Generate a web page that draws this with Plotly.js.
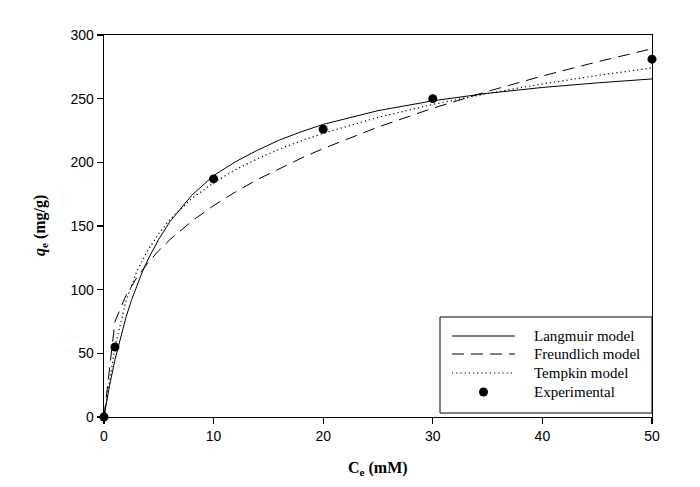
<!DOCTYPE html>
<html>
<head>
<meta charset="utf-8">
<script src="https://cdn.plot.ly/plotly-3.0.1.min.js"></script>
<style>html,body{margin:0;padding:0;background:#fff;}#chart{width:700px;height:487px;}</style>
</head>
<body>
<div id="chart"></div>
<script>
// Model curves
const langmuirCe = [0, 0.5, 1, 1.5, 2, 2.5, 3, 3.5, 4, 5, 6, 8, 10, 12, 14, 16, 18, 20, 25, 30, 35, 40, 45, 50];
const langmuirQe = [0, 24.4, 45.0, 62.7, 78.1, 91.6, 103.4, 114.0, 123.5, 139.7, 153.2, 174.1, 189.6, 200.5, 209.5, 217.5, 224.0, 229.8, 240.6, 248.3, 254.2, 258.8, 262.4, 265.5];
const modelCe = [0, 1, 2, 3, 4, 5, 6, 8, 10, 12, 14, 16, 18, 20, 25, 30, 35, 40, 45, 50];
const freundlichQe = [0, 75.0, 95.3, 109.6, 121.0, 130.7, 139.2, 153.7, 166.0, 176.8, 186.5, 195.2, 203.3, 210.8, 227.7, 242.5, 255.7, 267.8, 278.9, 289.2];
const tempkinQe = [0, 55.0, 91.0, 114.5, 131.0, 144.0, 155.0, 171.5, 184.0, 194.2, 202.8, 210.3, 216.9, 222.8, 235.3, 245.5, 254.1, 261.6, 268.2, 274.1];
// Experimental points
const expCe = [0, 1, 10, 20, 30, 50];
const expQe = [0, 55, 187, 226, 250, 281];
// Axis ticks
const xTicks = [0, 10, 20, 30, 40, 50];
const yTicks = [0, 50, 100, 150, 200, 250, 300];
// Legend labels
const legendLabels = ["Langmuir model", "Freundlich model", "Tempkin model", "Experimental"];

const L = 104, R = 652, T = 35, B = 417;
const px2x = p => (p - L) / (R - L);
const py2y = p => (B - p) / (B - T);

const lineStyles = [
  {color: '#000', width: 1, dash: 'solid'},
  {color: '#000', width: 1, dash: '12px,7px'},
  {color: '#000', width: 1.2, dash: '1.2px,3px'}
];

const traces = [
  {x: langmuirCe, y: langmuirQe, mode: 'lines', line: lineStyles[0], name: legendLabels[0], hoverinfo: 'skip'},
  {x: modelCe, y: freundlichQe, mode: 'lines', line: lineStyles[1], name: legendLabels[1], hoverinfo: 'skip'},
  {x: modelCe, y: tempkinQe, mode: 'lines', line: lineStyles[2], name: legendLabels[2], hoverinfo: 'skip'},
  {x: expCe, y: expQe, mode: 'markers', marker: {color: '#000', size: 9}, name: legendLabels[3], cliponaxis: false}
];

// custom legend
const shapes = [
  {type: 'rect', xref: 'paper', yref: 'paper', x0: px2x(440), x1: px2x(652), y0: py2y(413), y1: py2y(317),
   line: {color: '#000', width: 1}, fillcolor: '#fff', layer: 'above'}
];
const rowY = [336, 354, 373, 392];
const annotations = [];
for (let i = 0; i < 3; i++) {
  shapes.push({type: 'line', xref: 'paper', yref: 'paper', x0: px2x(452), x1: px2x(515), y0: py2y(rowY[i]), y1: py2y(rowY[i]),
    line: {color: '#000', width: lineStyles[i].width, dash: lineStyles[i].dash}, layer: 'above'});
}
shapes.push({type: 'circle', xref: 'paper', yref: 'paper', x0: px2x(479), x1: px2x(488), y0: py2y(396.5), y1: py2y(387.5),
  fillcolor: '#000', line: {color: '#000', width: 0}, layer: 'above'});
for (let i = 0; i < 4; i++) {
  annotations.push({xref: 'paper', yref: 'paper', x: px2x(532), y: py2y(rowY[i]), xanchor: 'left', yanchor: 'middle',
    text: legendLabels[i], showarrow: false, font: {family: 'Liberation Serif, Times New Roman, serif', size: 15, color: '#000'}});
}
// axis titles
annotations.push({xref: 'paper', yref: 'paper', x: 0.5, y: 0, yshift: -51, xanchor: 'center', yanchor: 'middle',
  text: '<b>C<sub>e</sub> (mM)</b>', showarrow: false, font: {family: 'Liberation Serif, Times New Roman, serif', size: 16, color: '#000'}});
annotations.push({xref: 'paper', yref: 'paper', x: 0, y: 0.5, xshift: -64, xanchor: 'center', yanchor: 'middle', textangle: -90,
  text: '<b><i>q</i><sub>e</sub> (mg/g)</b>', showarrow: false, font: {family: 'Liberation Serif, Times New Roman, serif', size: 16, color: '#000'}});

const axisCommon = {
  showgrid: false, zeroline: false, showline: true, linecolor: '#000', linewidth: 1.3, mirror: true,
  ticks: 'outside', ticklen: 6, tickwidth: 1.2, tickcolor: '#000',
  tickfont: {family: 'Liberation Sans, Arial, sans-serif', size: 14, color: '#000'}
};

const layout = {
  width: 700, height: 487,
  margin: {l: L, r: 700 - R, t: T, b: 487 - B},
  paper_bgcolor: '#fff', plot_bgcolor: '#fff',
  showlegend: false,
  xaxis: Object.assign({}, axisCommon, {range: [0, 50], tickvals: xTicks, ticktext: xTicks.map(String)}),
  yaxis: Object.assign({}, axisCommon, {range: [0, 300], tickvals: yTicks, ticktext: yTicks.map(String)}),
  shapes: shapes,
  annotations: annotations
};

Plotly.newPlot('chart', traces, layout, {staticPlot: true, displayModeBar: false});
</script>
</body>
</html>
